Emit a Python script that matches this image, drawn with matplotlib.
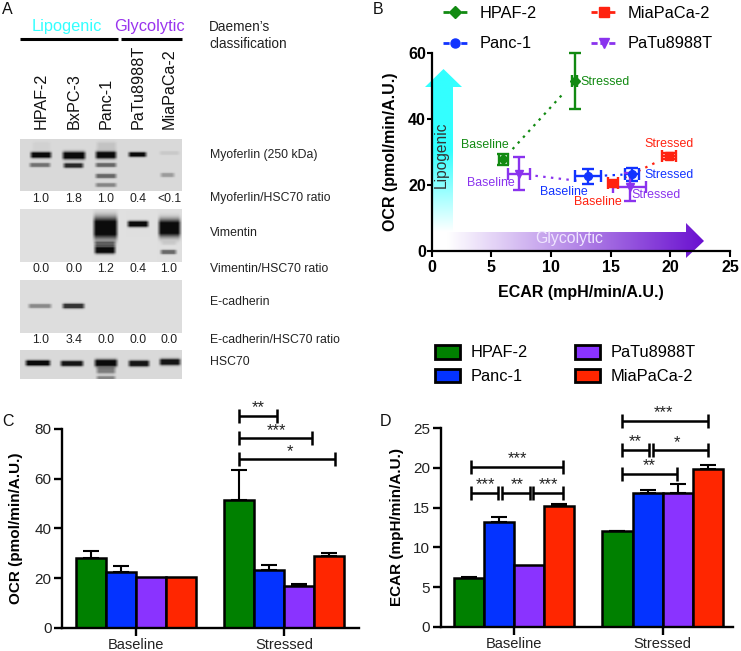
import numpy as np
import matplotlib
matplotlib.use("Agg")
import matplotlib.pyplot as plt
from matplotlib.patches import Polygon, Patch
from matplotlib.lines import Line2D
from matplotlib.colors import LinearSegmentedColormap

plt.rcParams['font.family'] = ['Liberation Sans', 'DejaVu Sans']

W, H = 741, 651

# ---------- data ----------
cell_lines = ["HPAF-2", "Panc-1", "PaTu8988T", "MiaPaCa-2"]
conditions = ["Baseline", "Stressed"]
bar_colors = ["#008000", "#0433FF", "#8A33FF", "#FF2600"]
pt_colors = ["#128A12", "#1133FF", "#8A33EE", "#FF2210"]

ocr_base = [28.0, 22.5, 20.3, 20.4]
ocr_stress = [51.5, 23.2, 16.8, 28.7]
ocr_base_err = [2.8, 2.3, 0.0, 0.0]
ocr_stress_err = [12.0, 2.0, 0.7, 1.3]

ecar_base = [6.1, 13.2, 7.8, 15.2]
ecar_stress = [12.0, 16.9, 16.9, 19.9]
ecar_base_err = [0.2, 0.6, 0.0, 0.3]
ecar_stress_err = [0.1, 0.3, 1.1, 0.5]

# panel B: error bars
b_x_base = [6.0, 13.1, 7.3, 15.2]
b_y_base = [27.7, 22.5, 23.3, 20.4]
b_x_stress = [12.0, 16.8, 16.6, 19.9]
b_y_stress = [51.5, 23.2, 19.3, 28.7]
b_xerr_base = [0.4, 1.1, 0.9, 0.45]
b_yerr_base = [1.7, 2.2, 5.0, 0.6]
b_xerr_stress = [0.2, 0.6, 1.4, 0.6]
b_yerr_stress = [8.5, 2.0, 4.3, 1.0]
b_markers = ["D", "o", "v", "s"]
# visible share of each connecting dotted line
b_line_span = [(0.13, 0.82), (0.38, 0.78), (0.15, 0.55), (0.2, 0.8)]
b_legend_order = [0, 1, 3, 2]

lanes = ["HPAF-2", "BxPC-3", "Panc-1", "PaTu8988T", "MiaPaCa-2"]
myo_ratio = ["1.0", "1.8", "1.0", "0.4", "<0.1"]
vim_ratio = ["0.0", "0.0", "1.2", "0.4", "1.0"]
ecad_ratio = ["1.0", "3.4", "0.0", "0.0", "0.0"]

fig = plt.figure(figsize=(W / 100, H / 100), dpi=100)


def px_axes(x0, x1, ytop, ybot, **kw):
    return fig.add_axes([x0 / W, 1 - ybot / H, (x1 - x0) / W, (ybot - ytop) / H], **kw)


back = px_axes(0, W, 0, H, zorder=0)
back.axis("off")
over = px_axes(0, W, 0, H, zorder=5)
over.axis("off")
over.patch.set_alpha(0)

# ---------- panel A: blots ----------
# band: (x0, x1, y, half-thickness, strength)
blots = [
    (139, 191, 0.85, [
        (29, 53, 155, 2.0, 1.0), (61, 87, 155.5, 2.8, 1.0), (94, 118, 155, 2.6, 1.0),
        (127, 148, 154.5, 1.4, 1.0), (158, 181, 153, 0.9, 0.08),
        (28, 52, 165, 1.1, 0.5), (62, 85, 165.5, 1.4, 0.85), (94, 118, 165, 1.1, 0.55),
        (94, 118, 176, 1.2, 0.55), (159, 176, 175, 1.1, 0.3), (94, 118, 185, 1.0, 0.4),
        (31, 52, 146, 3.0, 0.04), (95, 118, 146, 3.0, 0.1),
    ]),
    (209, 262, 0.875, [
        (92, 119, 228, 9.5, 1.0), (93, 117, 244, 1.8, 0.55), (93, 117, 250, 2.6, 1.0),
        (126, 150, 224, 2.0, 1.0), (157, 182, 228, 7.5, 1.0),
        (159, 178, 252, 1.2, 0.55), (160, 178, 243, 1.0, 0.08),
    ]),
    (280, 333, 0.865, [
        (27, 53, 306, 1.1, 0.4), (61, 86, 306, 1.5, 0.8),
    ]),
    (350, 379, 0.85, [
        (24, 52, 363, 1.8, 1.0), (59, 85, 363.5, 1.7, 0.95), (93, 119, 363, 2.6, 1.0),
        (127, 151, 363.5, 2.0, 0.95), (158, 182, 362, 2.2, 0.95),
        (95, 117, 370, 2.5, 0.45), (95, 117, 378, 1.0, 0.4),
    ]),
]
for y0, y1, bg, bands in blots:
    xs = np.arange(20, 182) + 0.5
    ys = np.arange(y0, y1) + 0.5
    XX, YY = np.meshgrid(xs, ys)
    img = np.ones_like(XX)
    for bx0, bx1, by, hw, s in bands:
        prof_x = np.clip((XX - bx0) / 4, 0, 1) * np.clip((bx1 - XX) / 4, 0, 1)
        prof_y = np.minimum(1, 1.35 * np.exp(-(np.abs(YY - by) / (hw + 0.9)) ** 2.4))
        img = img * (1 - s * 0.95 * prof_x * prof_y)
    back.imshow(img * bg, extent=(20, 182, y1, y0), cmap="gray", vmin=0, vmax=1,
                aspect="auto", interpolation="bilinear", zorder=1)

lane_x = [41, 74, 106, 138, 169]
for x, name in zip(lane_x, lanes):
    over.text(x, 129, name, rotation=90, ha="center", va="bottom", fontsize=11.6, color="#111111")
for y, row in zip([199, 269, 340], [myo_ratio, vim_ratio, ecad_ratio]):
    for x, s in zip(lane_x, row):
        over.text(x, y, s, ha="center", va="center", fontsize=8.8, color="#222222")
for y, s in [(155, "Myoferlin (250 kDa)"), (198, "Myoferlin/HSC70 ratio"), (233.5, "Vimentin"),
             (269, "Vimentin/HSC70 ratio"), (302, "E-cadherin"),
             (340, "E-cadherin/HSC70 ratio"), (362, "HSC70")]:
    over.text(210, y, s, ha="left", va="center", fontsize=8.8, color="#222222")
over.text(67, 26, "Lipogenic", ha="center", va="center", fontsize=11.8, color="#33FFFF")
over.text(149, 26, "Glycolytic", ha="center", va="center", fontsize=11.8, color="#9933EE")
over.text(209, 27, "Daemen\u2019s", ha="left", va="center", fontsize=9.8, color="#222222")
over.text(209, 43.5, "classification", ha="left", va="center", fontsize=9.8, color="#222222")
over.plot([20, 118], [38.7, 38.7], color="k", lw=2.2, solid_capstyle="butt")
over.plot([121, 182], [38.7, 38.7], color="k", lw=2.2, solid_capstyle="butt")
for s, x, y in [("A", 2, 9), ("B", 373, 9), ("C", 2, 422), ("D", 380, 422)]:
    over.text(x, y, s, ha="left", va="center", fontsize=11.5, color="#111111")

# ---------- panel B ----------
axb = px_axes(431.7, 730, 52.7, 250.7, zorder=2)
axb.patch.set_alpha(0)
axb.set_xlim(0, 25)
axb.set_ylim(0, 60)
for i, name in enumerate(cell_lines):
    c = pt_colors[i]
    for xs, ys, xe, ye in [(b_x_base, b_y_base, b_xerr_base, b_yerr_base),
                           (b_x_stress, b_y_stress, b_xerr_stress, b_yerr_stress)]:
        axb.errorbar(xs[i], ys[i], xerr=xe[i], yerr=ye[i], fmt=b_markers[i], color=c, ms=5.6,
                     elinewidth=1.7, capsize=4.2, capthick=1.7, clip_on=False, zorder=4)
    f0, f1 = b_line_span[i]
    xa, xb = b_x_base[i], b_x_stress[i]
    ya, yb = b_y_base[i], b_y_stress[i]
    axb.plot([xa + f0 * (xb - xa), xa + f1 * (xb - xa)], [ya + f0 * (yb - ya), ya + f1 * (yb - ya)],
             color=c, lw=1.6, dashes=(1.1, 2.4), zorder=3)
axb.set_xticks([0, 5, 10, 15, 20, 25])
axb.set_yticks([0, 20, 40, 60])
axb.set_xlabel("ECAR (mpH/min/A.U.)", fontsize=11.5, fontweight="bold", labelpad=7.5)
axb.set_ylabel("OCR (pmol/min/A.U.)", fontsize=11.5, fontweight="bold", labelpad=7)
for lab in axb.get_xticklabels() + axb.get_yticklabels():
    lab.set_fontweight("bold")
axb.tick_params(axis="x", labelsize=11.5, width=1.5, length=4.5, pad=2)
axb.tick_params(axis="y", labelsize=11.5, width=1.5, length=3.6, pad=0.5)
for s in ("top", "right"):
    axb.spines[s].set_visible(False)
for s in ("left", "bottom"):
    axb.spines[s].set_linewidth(1.6)

labels_b = [("Stressed", 605, 82, 0), ("Baseline", 485, 145, 0), ("Baseline", 491, 183, 2),
            ("Baseline", 564, 192, 1), ("Baseline", 598, 202, 3), ("Stressed", 669, 144, 3),
            ("Stressed", 669, 175, 1), ("Stressed", 656, 195, 2)]
for s, x, y, i in labels_b:
    over.text(x, y, s, ha="center", va="center", fontsize=8.9, color=pt_colors[i])

# gradient arrows
cyan = LinearSegmentedColormap.from_list("c", ["#FFFFFF", "#33FFFF", "#33FFFF"])
violet = LinearSegmentedColormap.from_list("v", ["#FFFFFF", "#6A10D0"])
grad = np.linspace(0, 1, 256)
im = back.imshow(grad[:, None], extent=(425, 462, 232, 69), cmap=cyan, origin="lower",
                 aspect="auto", zorder=2)
poly = Polygon([(433, 232), (433, 87), (425, 87), (443.5, 69), (462, 87), (453, 87), (453, 232)],
               closed=True, transform=back.transData, fc="none", ec="none")
back.add_patch(poly)
im.set_clip_path(poly)
im2 = back.imshow(grad[None, :], extent=(447, 704, 258, 223), cmap=violet, aspect="auto", zorder=2)
poly2 = Polygon([(447, 232), (686, 232), (686, 223), (704, 241), (686, 258), (686, 251), (447, 251)],
                closed=True, transform=back.transData, fc="none", ec="none")
back.add_patch(poly2)
im2.set_clip_path(poly2)
over.text(441, 155, "Lipogenic", rotation=90, ha="center", va="center", fontsize=11.2, color="#333333")
over.text(569, 238, "Glycolytic", ha="center", va="center", fontsize=11.4, color="#F0E6FF")

handles_b = [Line2D([], [], color=pt_colors[i], marker=b_markers[i], ms=6.5, lw=2, dashes=(2.2, 1.0))
             for i in b_legend_order]
axb.legend(handles_b, [cell_lines[i] for i in b_legend_order], ncol=2, frameon=False, fontsize=11.8,
           loc="upper left", bbox_to_anchor=(0.038, 1.235), handlelength=1.5, handletextpad=0.75,
           columnspacing=3.3, labelspacing=0.93, borderpad=0, borderaxespad=0)


# ---------- panels C, D ----------
def bars(ax, base, stress, berr, serr):
    width = 30 / 148
    for j, (vals, errs) in enumerate([(base, berr), (stress, serr)]):
        for i in range(4):
            x = j + (i - 1.5) * width
            ax.bar(x, vals[i], width=width, color=bar_colors[i], edgecolor="k", linewidth=1.8, zorder=2)
            if errs[i] > 0:
                ax.errorbar(x, vals[i], yerr=[[0], [errs[i]]], color="k", elinewidth=1.5, capsize=6,
                            capthick=1.5, zorder=1)
    ax.set_xticks([0, 1])
    ax.set_xticklabels(conditions)
    ax.tick_params(axis="x", labelsize=10.5, width=1.7, length=5.5, pad=2, color="k", labelcolor="#222222")
    ax.tick_params(axis="y", labelsize=11, width=1.7, length=6, pad=1.5, labelcolor="#222222")
    for s in ("top", "right"):
        ax.spines[s].set_visible(False)
    for s in ("left", "bottom"):
        ax.spines[s].set_linewidth(1.7)


axc = px_axes(62, 359, 429, 627.7, zorder=2)
axc.patch.set_alpha(0)
axc.set_xlim((62 - 136) / 148, (359 - 136) / 148)
axc.set_ylim(0, 80)
bars(axc, ocr_base, ocr_stress, ocr_base_err, ocr_stress_err)
axc.set_yticks([0, 20, 40, 60, 80])
axc.set_ylabel("OCR (pmol/min/A.U.)", fontsize=11, fontweight="bold", labelpad=8)

axd = px_axes(440.7, 733, 428.3, 626.7, zorder=2)
axd.patch.set_alpha(0)
axd.set_xlim((440.7 - 514) / 148.7, (733 - 514) / 148.7)
axd.set_ylim(0, 25)
bars(axd, ecar_base, ecar_stress, ecar_base_err, ecar_stress_err)
axd.set_yticks([0, 5, 10, 15, 20, 25])
axd.set_ylabel("ECAR (mpH/min/A.U.)", fontsize=11, fontweight="bold", labelpad=6.5)

handles_d = [Patch(facecolor=c, edgecolor="k", linewidth=2) for c in bar_colors]
axd.legend(handles_d, cell_lines, ncol=2, frameon=False, fontsize=11.8, loc="upper left",
           bbox_to_anchor=(-0.02, 1.42), handlelength=1.55, handleheight=0.9, handletextpad=0.62,
           columnspacing=2.88, labelspacing=0.5, borderpad=0, borderaxespad=0)

# significance brackets: (x0, x1, y, text, text x, text y)
brackets = [
    (239, 277, 416, "**", 258, 408), (239, 312, 438, "***", 276, 431), (239, 335, 459, "*", 290, 452),
    (621.7, 707.7, 421, "***", 663, 413), (621.7, 649.3, 450, "**", 635, 441.5),
    (652.7, 707.7, 450, "*", 677, 442.5), (621.7, 676.7, 474, "**", 649, 466),
    (470.7, 562.7, 467.3, "***", 517, 459), (470.7, 498.3, 492.7, "***", 485, 485),
    (501.7, 530, 492.7, "**", 517, 485), (533.3, 562.7, 492.7, "***", 548, 485),
]
for x0, x1, y, s, tx, ty in brackets:
    over.plot([x0, x1], [y, y], color="k", lw=1.8, solid_capstyle="butt")
    for x in (x0, x1):
        over.plot([x, x], [y - 7, y + 7], color="k", lw=1.8, solid_capstyle="butt")
    over.text(tx, ty, s, ha="center", va="center", fontsize=12, color="#222222")

for a in (back, over):
    a.set_xlim(0, W)
    a.set_ylim(H, 0)

fig.savefig("out.png", dpi=100)
